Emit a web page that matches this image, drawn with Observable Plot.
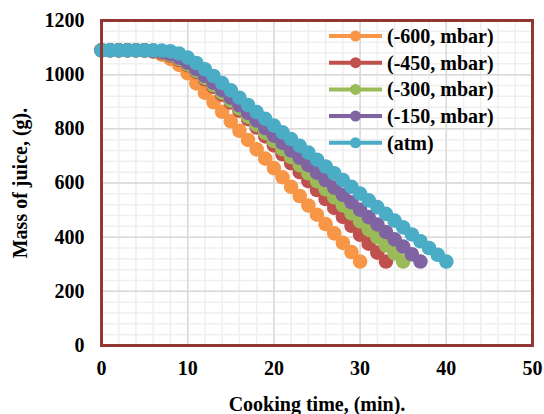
<!DOCTYPE html>
<html>
<head>
<meta charset="utf-8">
<script src="https://cdn.jsdelivr.net/npm/d3@7"></script>
<script src="https://cdn.jsdelivr.net/npm/@observablehq/plot@0.6"></script>
<style>
  html, body { margin: 0; padding: 0; background: #fff; }
  #wrap { position: relative; width: 544px; height: 414px; }
  #legend { position: absolute; left: 0; top: 0; pointer-events: none; }
  #wrap svg text { font-family: "Liberation Serif", "Times New Roman", serif !important; font-weight: bold; font-variant: normal !important; }
</style>
</head>
<body>
<div id="wrap"></div>
<script>
// ---- data ----
const seriesNames = ["(-600, mbar)", "(-450, mbar)", "(-300, mbar)", "(-150, mbar)", "(atm)"];
const seriesColors = ["#F79646", "#C0504D", "#9BBB59", "#8064A2", "#4BACC6"];

const mass600 = [1090,1090,1090,1090,1090,1090,1085,1074,1058,1036,1005,968,933,898,863,828,793,759,724,690,655,621,586,552,517,483,448,414,379,345,310];
const mass450 = [1090,1090,1090,1090,1090,1089,1086,1080,1070,1055,1035,1010,983,955,926,897,867,836,805,772,739,706,673,640,607,574,541,508,475,442,409,376,343,310];
const mass300 = [1090,1090,1090,1090,1090,1090,1087,1082,1073,1058,1038,1014,988,961,933,904,875,845,815,785,755,725,696,666,636,607,577,547,517,488,458,428,399,369,340,310];
const mass150 = [1090,1090,1090,1090,1090,1090,1088,1084,1076,1063,1044,1021,996,970,943,915,887,859,831,803,775,748,720,693,666,638,611,583,556,529,501,474,447,419,392,365,337,310];
const massAtm = [1090,1090,1090,1090,1090,1090,1090,1089,1086,1078,1063,1043,1020,995,969,942,915,888,862,837,812,787,762,737,712,686,661,636,611,586,561,536,511,486,461,436,410,385,360,335,310];

const xTicks = [0, 10, 20, 30, 40, 50];
const yTicks = [0, 200, 400, 600, 800, 1000, 1200];
const xMinor = d3.range(0, 51, 2);
const yMinor = d3.range(0, 1201, 40);

const xLabel = "Cooking time, (min).";
const yLabel = "Mass of juice, (g).";

// ---- table for Plot ----
const allMass = [mass600, mass450, mass300, mass150, massAtm];
const rows = allMass.flatMap((arr, i) => arr.map((m, t) => ({series: seriesNames[i], t, m})));

const frameColor = "#943634";
const fontFamily = "Liberation Serif, Times New Roman, serif";

const chart = Plot.plot({
  width: 544,
  height: 414,
  marginLeft: 101,
  marginRight: 12,
  marginTop: 20,
  marginBottom: 69,
  style: {fontFamily, fontWeight: "bold", fontSize: "20px", color: "#000", background: "#fff", overflow: "visible"},
  x: {domain: [0, 50]},
  y: {domain: [0, 1200]},
  color: {domain: seriesNames, range: seriesColors},
  marks: [
    Plot.ruleX(xMinor, {stroke: "#efefef", strokeWidth: 1.5}),
    Plot.ruleY(yMinor, {stroke: "#efefef", strokeWidth: 1.5}),
    Plot.ruleX(xTicks, {stroke: "#d9d9d9", strokeWidth: 1.5}),
    Plot.ruleY(yTicks, {stroke: "#d9d9d9", strokeWidth: 1.5}),
    Plot.line(rows, {x: "t", y: "m", z: "series", stroke: "series", strokeWidth: 3}),
    Plot.dot(rows, {x: "t", y: "m", fill: "series", r: 7.3, stroke: null}),
    Plot.frame({stroke: frameColor, strokeWidth: 3}),
    Plot.axisX({ticks: xTicks, tickFormat: d => String(d), tickSize: 0, tickPadding: 15, fontSize: 20, fontWeight: "bold",
      label: xLabel, labelAnchor: "center", labelArrow: "none", labelOffset: 65}),
    Plot.axisY({ticks: yTicks, tickFormat: d => String(d), tickSize: 0, tickPadding: 17, fontSize: 20, fontWeight: "bold",
      label: yLabel, labelAnchor: "center", labelArrow: "none", labelOffset: 89})
  ]
});

const wrap = document.getElementById("wrap");
wrap.appendChild(chart);

// ---- legend overlay (inside plot, top-right) ----
const legend = d3.select(wrap).append("svg")
  .attr("id", "legend")
  .attr("width", 544).attr("height", 414);
const lg = legend.append("g").attr("transform", "translate(329,36)");
seriesNames.forEach((name, i) => {
  const g = lg.append("g").attr("transform", `translate(0,${i * 26.7})`);
  g.append("line").attr("x1", 0).attr("x2", 53).attr("y1", 0).attr("y2", 0)
    .attr("stroke", seriesColors[i]).attr("stroke-width", 4);
  g.append("circle").attr("cx", 26.5).attr("cy", 0).attr("r", 5.5).attr("fill", seriesColors[i]);
  g.append("text").attr("x", 58).attr("y", 0).attr("dy", "0.35em")
    .attr("font-size", 20).attr("fill", "#000").text(name);
});
</script>
</body>
</html>
